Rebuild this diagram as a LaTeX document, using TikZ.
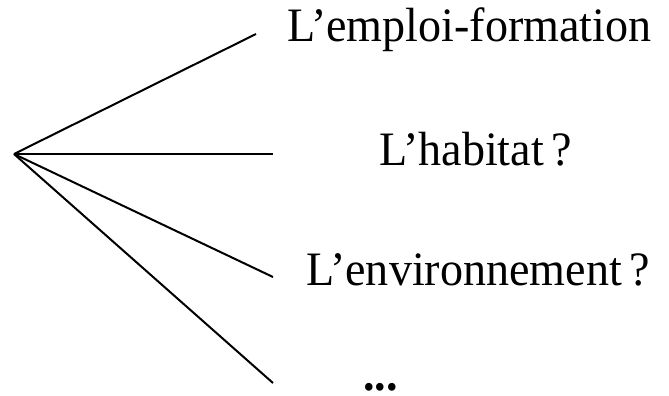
\documentclass[tikz,border=0pt]{standalone}
\usepackage{fontspec}
\setmainfont[FakeStretch=0.96]{Liberation Serif}
\tikzset{branch/.style={draw,line width=2pt},
	leaf/.style={inner sep=0pt,anchor=base west,font=\fontsize{48}{48}\selectfont}}
\begin{document}
\begin{tikzpicture}[x=1pt,y=-1pt]
	\useasboundingbox (0,0) rectangle (669,396);
	\coordinate (root) at (14,154);
	% ends of the branches
	\coordinate (e1) at (256,34);
	\coordinate (e2) at (273,154);
	\coordinate (e3) at (273,277);
	\coordinate (e4) at (273,383);
	\node[leaf] (emploi) at (287,42) {L'emploi-formation};
	\node[leaf] (habitat) at (379,165) {L'habitat\,?};
	\node[leaf] (environ) at (306,285) {L'environnement\,?};
	\node[leaf,text depth=0pt,text height=6pt] (etc) at (363,390) {\bfseries ...};
	\foreach \nr in {1,...,4}{
		\draw[branch] (root) -- (e\nr);
	}
\end{tikzpicture}
\end{document}
